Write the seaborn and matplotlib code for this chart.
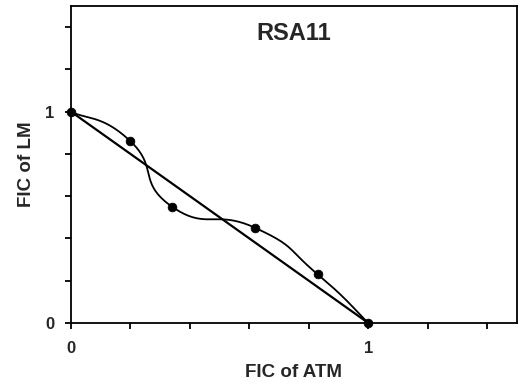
import numpy as np
import pandas as pd
import matplotlib
matplotlib.use('Agg')
import matplotlib.pyplot as plt
import seaborn as sns

# Isobologram data
fic_atm = [0.0, 0.2, 0.34, 0.62, 0.83, 1.0]
fic_lm = [1.0, 0.86, 0.55, 0.45, 0.23, 0.0]
additive_x = [0.0, 1.0]
additive_y = [1.0, 0.0]
title = 'RSA11'

sns.set_style('white')
plt.rcParams['font.family'] = ['Liberation Sans', 'DejaVu Sans']
plt.rcParams['font.weight'] = 'bold'


# Smoothed line through the points (cubic Bezier segments)
def smooth(xs, ys, k=0.28, n=40):
    p = np.column_stack([xs, ys]).astype(float)
    p = np.vstack([p[0], p, p[-1]])
    out = []
    for i in range(1, len(p) - 2):
        p0, p1, p2, p3 = p[i - 1], p[i], p[i + 1], p[i + 2]
        c1 = p1 + (p2 - p0) * k
        c2 = p2 - (p3 - p1) * k
        t = np.linspace(0, 1, n)[:, None]
        seg = ((1 - t) ** 3 * p1 + 3 * (1 - t) ** 2 * t * c1
               + 3 * (1 - t) * t ** 2 * c2 + t ** 3 * p2)
        out.append(seg if i == 1 else seg[1:])
    out = np.vstack(out)
    return pd.DataFrame({'x': out[:, 0], 'y': out[:, 1], 'order': np.arange(len(out))})


curve = smooth(fic_atm, fic_lm)
points = pd.DataFrame({'x': fic_atm, 'y': fic_lm})
line = pd.DataFrame({'x': additive_x, 'y': additive_y})

fig = plt.figure(figsize=(5.28, 3.87), dpi=100)
ax = fig.add_axes([0.1345, 0.1654, 0.8445, 0.8191])

sns.lineplot(data=line, x='x', y='y', color='black', linewidth=1.6, ax=ax)
sns.lineplot(data=curve, x='x', y='y', sort=False, estimator=None,
             color='black', linewidth=1.3, ax=ax)
sns.scatterplot(data=points, x='x', y='y', color='black', s=40,
                edgecolor='black', zorder=5, clip_on=False, ax=ax)

ax.set_xlim(0, 1.5)
ax.set_ylim(0, 1.5)
ax.set_xticks([0, 1])
ax.set_yticks([0, 1])
ax.set_xticklabels(['0', '1'])
ax.set_yticklabels(['0', '1'])
ax.set_xticks(np.arange(0.2, 1.5, 0.2), minor=True)
ax.set_yticks(np.arange(0.2, 1.5, 0.2), minor=True)
ax.tick_params(which='both', direction='out', length=4, width=1.3,
               bottom=True, left=True, top=False, right=False, color='black')
ax.tick_params(axis='x', labelsize=12, pad=9)
ax.tick_params(axis='y', labelsize=12, pad=8)

for s in ax.spines.values():
    s.set_color('black')
    s.set_linewidth(1.3)

ax.set_xlabel('FIC of ATM', fontsize=13.5, fontweight='bold', labelpad=6)
ax.set_ylabel('FIC of LM', fontsize=13.5, fontweight='bold', labelpad=7)
ax.text(0.75, 1.37, title, fontsize=17, fontweight='bold', ha='center', va='center')

fig.savefig('out.png', dpi=100)
